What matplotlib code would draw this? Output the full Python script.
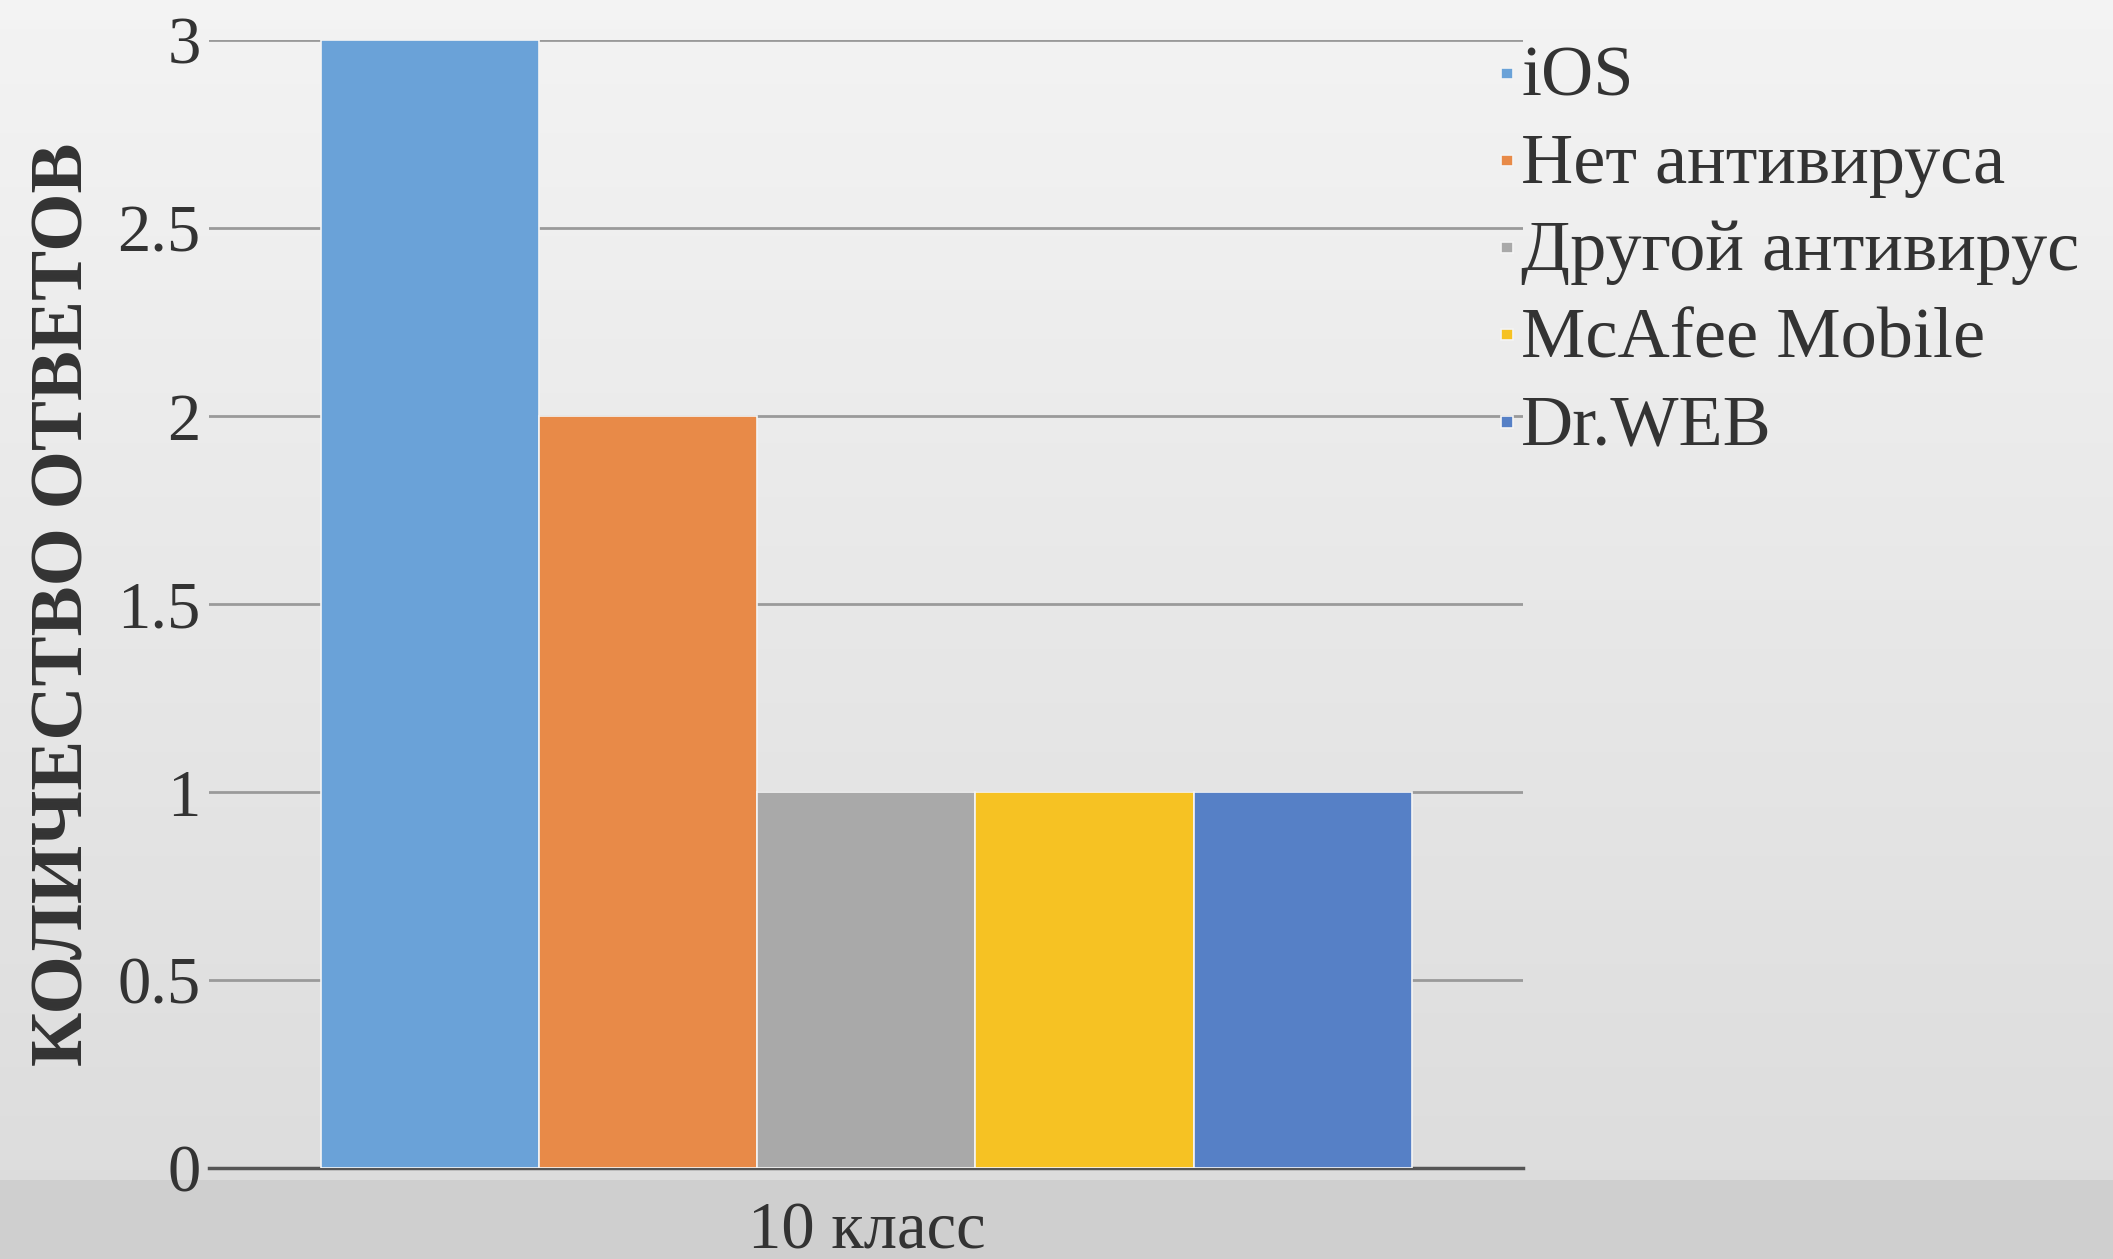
import matplotlib
matplotlib.use("Agg")
import matplotlib.pyplot as plt
import numpy as np

# data
category = "10 класс"
series = ["iOS", "Нет антивируса", "Другой антивирус", "McAfee Mobile", "Dr.WEB"]
values = [3, 2, 1, 1, 1]
colors = ["#6aa2d8", "#e88a48", "#a9a9a9", "#f6c223", "#5680c6"]
yticks = [0, 0.5, 1, 1.5, 2, 2.5, 3]
ytick_labels = ["0", "0.5", "1", "1.5", "2", "2.5", "3"]

plt.rcParams['font.family'] = ['Liberation Serif', 'DejaVu Serif']

fig = plt.figure(figsize=(21.13, 12.59), dpi=100)

# background gradient
bg = fig.add_axes([0, 0, 1, 1], zorder=-10)
grad = np.linspace(0.955, 0.86, 256).reshape(-1, 1)
grad[int(256 * 0.94):] = 0.815
bg.imshow(np.dstack([grad, grad, grad]), aspect='auto', extent=[0, 1, 0, 1])
bg.set_axis_off()

ax = fig.add_axes([0.099, 0.072, 0.622, 0.896])
ax.patch.set_alpha(0)

n = len(series)
group_w = 0.83
bw = group_w / n
for i in range(n):
    x = -group_w / 2 + bw * (i + 0.5)
    ax.bar(x, values[i], width=bw, color=colors[i], edgecolor="#f4f4f4",
           linewidth=1.2, label=series[i], zorder=3)

ax.set_xlim(-0.5, 0.5)
ax.set_ylim(0, 3)
ax.set_yticks(yticks)
ax.set_yticklabels(ytick_labels)
ax.set_xticks([0])
ax.set_xticklabels([category])
ax.tick_params(axis='both', length=0, labelsize=48, colors="#333333")
ax.tick_params(axis='y', pad=6)
ax.tick_params(axis='x', pad=24)
ax.grid(axis='y', color="#9a9a9a", linewidth=2, zorder=1)
for s in ["top", "right", "left"]:
    ax.spines[s].set_visible(False)
ax.spines["bottom"].set_color("#555555")
ax.spines["bottom"].set_linewidth(2.5)

ax.set_ylabel("КОЛИЧЕСТВО ОТВЕТОВ", fontsize=54, fontweight='bold',
              color="#333333", labelpad=14)

leg = ax.legend(loc='upper left', bbox_to_anchor=(0.983, 0.996), frameon=False,
                fontsize=52, handlelength=0.16, handleheight=0.7,
                handletextpad=0.12, labelspacing=0.3, borderaxespad=0,
                borderpad=0)
for t in leg.get_texts():
    t.set_color("#333333")
for h in leg.legend_handles:
    # shrink the swatch to a small square at the text's middle
    h.set_height(h.get_height() * 0.22)
    h.set_y(h.get_y() + h.get_height() * 1.5)

fig.savefig("out.png", dpi=100)
